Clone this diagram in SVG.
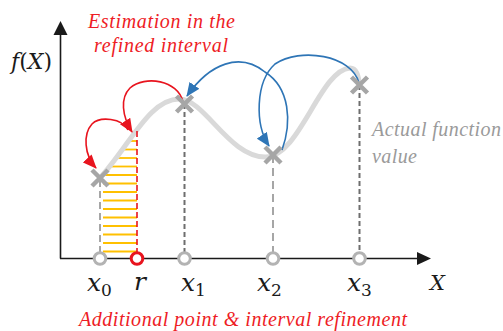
<svg xmlns="http://www.w3.org/2000/svg" width="503" height="331" viewBox="0 0 503 331">
<defs>
<style>
.axis{stroke:#1a1a1a;stroke-width:1.6;fill:none}
.curve{stroke:#d9d9d9;stroke-width:5;fill:none;stroke-linecap:round}
.hatch{stroke:#ffc000;stroke-width:1.8}
.dl{stroke:#a6a6a6;stroke-width:2;stroke-dasharray:7 4;fill:none}
.dd{stroke:#6e6e6e;stroke-width:2;stroke-dasharray:5 3;fill:none}
.dr{stroke:#e8141e;stroke-width:1.6;stroke-dasharray:6 3;fill:none}
.cross{stroke:#a6a6a6;stroke-width:4.5;fill:none}
.pt{fill:#fff;stroke:#b3b3b3;stroke-width:3}
.ptr{fill:#fff;stroke:#e8141e;stroke-width:3}
.ra{stroke:#e8141e;stroke-width:1.6;fill:none;marker-end:url(#ah-r)}
.ba{stroke:#2e75b6;stroke-width:1.6;fill:none;marker-end:url(#ah-b)}
.math{font-family:"DejaVu Serif",serif;fill:#1a1a1a}
.red{fill:#ee1c25}
.gray{fill:#9a9a9a}
</style>
<marker id="ah-r" markerUnits="userSpaceOnUse" markerWidth="14" markerHeight="12" viewBox="0 0 14 12" refX="13" refY="6" orient="auto">
<path d="M0,0 L14,6 L0,12 Z" fill="#e8141e"/>
</marker>
<marker id="ah-b" markerUnits="userSpaceOnUse" markerWidth="14" markerHeight="12" viewBox="0 0 14 12" refX="13" refY="6" orient="auto">
<path d="M0,0 L14,6 L0,12 Z" fill="#2e75b6"/>
</marker>
</defs>
<rect width="503" height="331" fill="#fff"/>

<g id="axes">
<line class="axis" x1="60.5" y1="258.5" x2="60.5" y2="34"/>
<path d="M53.5,35 L60.5,21 L67.5,35 Z" fill="#1a1a1a"/>
<line class="axis" x1="60" y1="258.5" x2="418" y2="258.5"/>
<path d="M417,252 L431,258.5 L417,265 Z" fill="#1a1a1a"/>
<text class="math" x="11" y="69" font-size="22"><tspan font-style="italic">f</tspan>(<tspan font-style="italic">X</tspan>)</text>
<text class="math" x="430" y="290" font-size="21" font-style="italic">X</text>
</g>

<g id="hatch">
<line class="hatch" x1="128.7" y1="141" x2="137" y2="141"/>
<line class="hatch" x1="122.3" y1="149.5" x2="137" y2="149.5"/>
<line class="hatch" x1="116" y1="158" x2="137" y2="158"/>
<line class="hatch" x1="109" y1="166.5" x2="137" y2="166.5"/>
<line class="hatch" x1="103" y1="175" x2="137" y2="175"/>
<line class="hatch" x1="103" y1="183.5" x2="137" y2="183.5"/>
<line class="hatch" x1="103" y1="192" x2="137" y2="192"/>
<line class="hatch" x1="103" y1="200.5" x2="137" y2="200.5"/>
<line class="hatch" x1="103" y1="209" x2="137" y2="209"/>
<line class="hatch" x1="103" y1="217.5" x2="137" y2="217.5"/>
<line class="hatch" x1="103" y1="226" x2="137" y2="226"/>
<line class="hatch" x1="103" y1="234.5" x2="137" y2="234.5"/>
<line class="hatch" x1="103" y1="243" x2="137" y2="243"/>
<line class="hatch" x1="103" y1="251.5" x2="137" y2="251.5"/>
</g>

<g id="function-curve">
<path class="curve" d="M100,178 C130,145 150,98 180,99 C205,100 230,158 266,157 C300,156 320,70 350,68 C356,68 359,75 359,85"/>
</g>

<g id="connectors">
<line class="dl" x1="100" y1="180" x2="100" y2="258"/>
<line class="dr" x1="137" y1="131" x2="137" y2="258"/>
<line class="dd" x1="184.5" y1="104" x2="184.5" y2="258"/>
<line class="dl" x1="273" y1="155" x2="273" y2="258" style="stroke-dasharray:8 5"/>
<line class="dd" x1="359.5" y1="85" x2="359.5" y2="258"/>
<path class="ra" d="M183,102 C178,80 145,75 130,88 C120,98 122,116 132,132"/>
<path class="ra" d="M128,130 C122,118 100,116 92,124 C83,134 84,155 96,168"/>
<path class="ba" d="M282,150 C292,122 290,88 265,72 C240,52 210,63 187,96"/>
<path class="ba" d="M359,83 C352,55 300,47 275,64 C255,82 255,125 269,146"/>
</g>

<g id="p-x0">
<path class="cross" d="M92,170 L108,186 M108,170 L92,186"/>
<circle class="pt" cx="100" cy="258.5" r="5.8"/>
<text class="math" x="87" y="291" font-size="25"><tspan font-style="italic">x</tspan><tspan font-size="17" dy="5">0</tspan></text>
</g>
<g id="p-r">
<circle class="ptr" cx="137" cy="258.5" r="5.8"/>
<text class="math" x="134" y="290" font-size="25" font-style="italic">r</text>
</g>
<g id="p-x1">
<path class="cross" d="M176.5,96 L192.5,112 M192.5,96 L176.5,112"/>
<circle class="pt" cx="184.5" cy="258.5" r="5.8"/>
<text class="math" x="181" y="291" font-size="25"><tspan font-style="italic">x</tspan><tspan font-size="17" dy="5">1</tspan></text>
</g>
<g id="p-x2">
<path class="cross" d="M265,147 L281,163 M281,147 L265,163"/>
<circle class="pt" cx="273" cy="258.5" r="5.8"/>
<text class="math" x="257" y="291" font-size="25"><tspan font-style="italic">x</tspan><tspan font-size="17" dy="5">2</tspan></text>
</g>
<g id="p-x3">
<path class="cross" d="M351.5,77 L367.5,93 M367.5,77 L351.5,93"/>
<circle class="pt" cx="359.5" cy="258.5" r="5.8"/>
<text class="math" x="347" y="291" font-size="25"><tspan font-style="italic">x</tspan><tspan font-size="17" dy="5">3</tspan></text>
</g>

<g id="labels" font-family="'Times New Roman', 'Liberation Serif', serif" font-style="italic">
<text class="red" x="88" y="28" font-size="20" textLength="147" lengthAdjust="spacing">Estimation in the</text>
<text class="red" x="94" y="52" font-size="20" textLength="134" lengthAdjust="spacing">refined interval</text>
<text class="gray" x="372" y="136" font-size="20" textLength="129" lengthAdjust="spacing">Actual function</text>
<text class="gray" x="372" y="163" font-size="20" textLength="45" lengthAdjust="spacing">value</text>
<text class="red" x="79" y="326" font-size="20" textLength="328" lengthAdjust="spacing">Additional point &amp; interval refinement</text>
</g>
</svg>
